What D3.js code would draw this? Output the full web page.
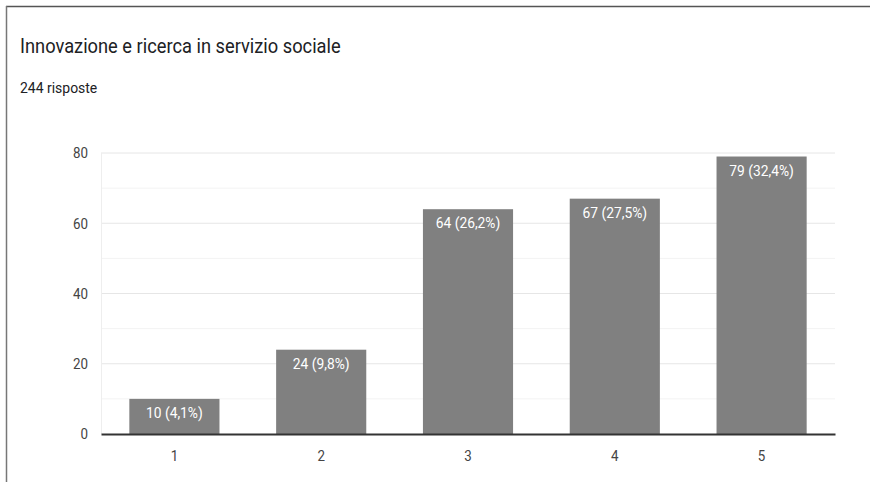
<!DOCTYPE html>
<html><head><meta charset="utf-8">
<script src="https://cdn.jsdelivr.net/npm/d3@7"></script>
<style>body{margin:0;background:#fff}svg{display:block;font-family:Roboto,Arial,sans-serif}</style>
</head><body><svg id="c" width="870" height="482"></svg>
<script>
const categories = ["1","2","3","4","5"];
const counts = [10,24,64,67,79];
const pctLabels = ["4,1%","9,8%","26,2%","27,5%","32,4%"];
const yTicks = [0,20,40,60,80];
const minorTicks = [10,30,50,70];
const title = "Innovazione e ricerca in servizio sociale";
const subtitle = "244 risposte";

const svg = d3.select("#c");
function narrow(k){
  return sel => sel.each(function(){
    const l = this.getComputedTextLength();
    d3.select(this).attr("textLength", l*k).attr("lengthAdjust","spacingAndGlyphs");
  });
}
// frame
svg.append("line").attr("x1",6).attr("x2",870).attr("y1",6.5).attr("y2",6.5).attr("stroke","#555").attr("stroke-width",1.5);
svg.append("line").attr("x1",6.5).attr("x2",6.5).attr("y1",6).attr("y2",482).attr("stroke","#777").attr("stroke-width",1.5);

svg.append("text").attr("x",20).attr("y",53).attr("font-size",21).attr("fill","#202124").text(title).call(narrow(0.87));
svg.append("text").attr("x",20).attr("y",93).attr("font-size",15.5).attr("fill","#202124").text(subtitle).call(narrow(0.9));

const x = d3.scaleBand().domain(categories).range([101,835]).paddingInner(0.386).paddingOuter(0.193);
const y = d3.scaleLinear().domain([0,80]).range([434,153]);

svg.append("g").selectAll("line").data(minorTicks).join("line")
  .attr("x1",101).attr("x2",835).attr("y1",d=>y(d)).attr("y2",d=>y(d)).attr("stroke","#f3f3f3");
svg.append("g").selectAll("line").data(yTicks.slice(1)).join("line")
  .attr("x1",101).attr("x2",835).attr("y1",d=>y(d)).attr("y2",d=>y(d)).attr("stroke","#e6e6e6");
svg.append("line").attr("x1",101.5).attr("x2",101.5).attr("y1",y(80)).attr("y2",y(0)).attr("stroke","#eeeeee");

const yAxis = d3.axisLeft(y).tickValues(yTicks).tickSize(0).tickPadding(13);
const gy = svg.append("g").attr("transform","translate(101,0)").call(yAxis);
gy.select(".domain").remove();
gy.selectAll("text").attr("font-size",15.5).attr("fill","#444").attr("font-family","Roboto,Arial,sans-serif").call(narrow(0.86));

svg.append("g").selectAll("rect").data(counts).join("rect")
  .attr("x",(d,i)=>x(categories[i])).attr("width",x.bandwidth())
  .attr("y",d=>y(d)).attr("height",d=>y(0)-y(d)).attr("fill","#808080");

svg.append("g").selectAll("text").data(counts).join("text")
  .attr("x",(d,i)=>x(categories[i])+x.bandwidth()/2).attr("y",d=>y(d)+19)
  .attr("text-anchor","middle").attr("font-size",15).attr("fill","#fff")
  .text((d,i)=>`${d} (${pctLabels[i]})`).call(narrow(0.92));

const xAxis = d3.axisBottom(x).tickSize(0).tickPadding(16);
const gx = svg.append("g").attr("transform","translate(0,434)").call(xAxis);
gx.select(".domain").attr("stroke","#333").attr("stroke-width",2);
gx.selectAll("text").attr("font-size",15.5).attr("fill","#444").attr("font-family","Roboto,Arial,sans-serif").call(narrow(0.86));
</script></body></html>
